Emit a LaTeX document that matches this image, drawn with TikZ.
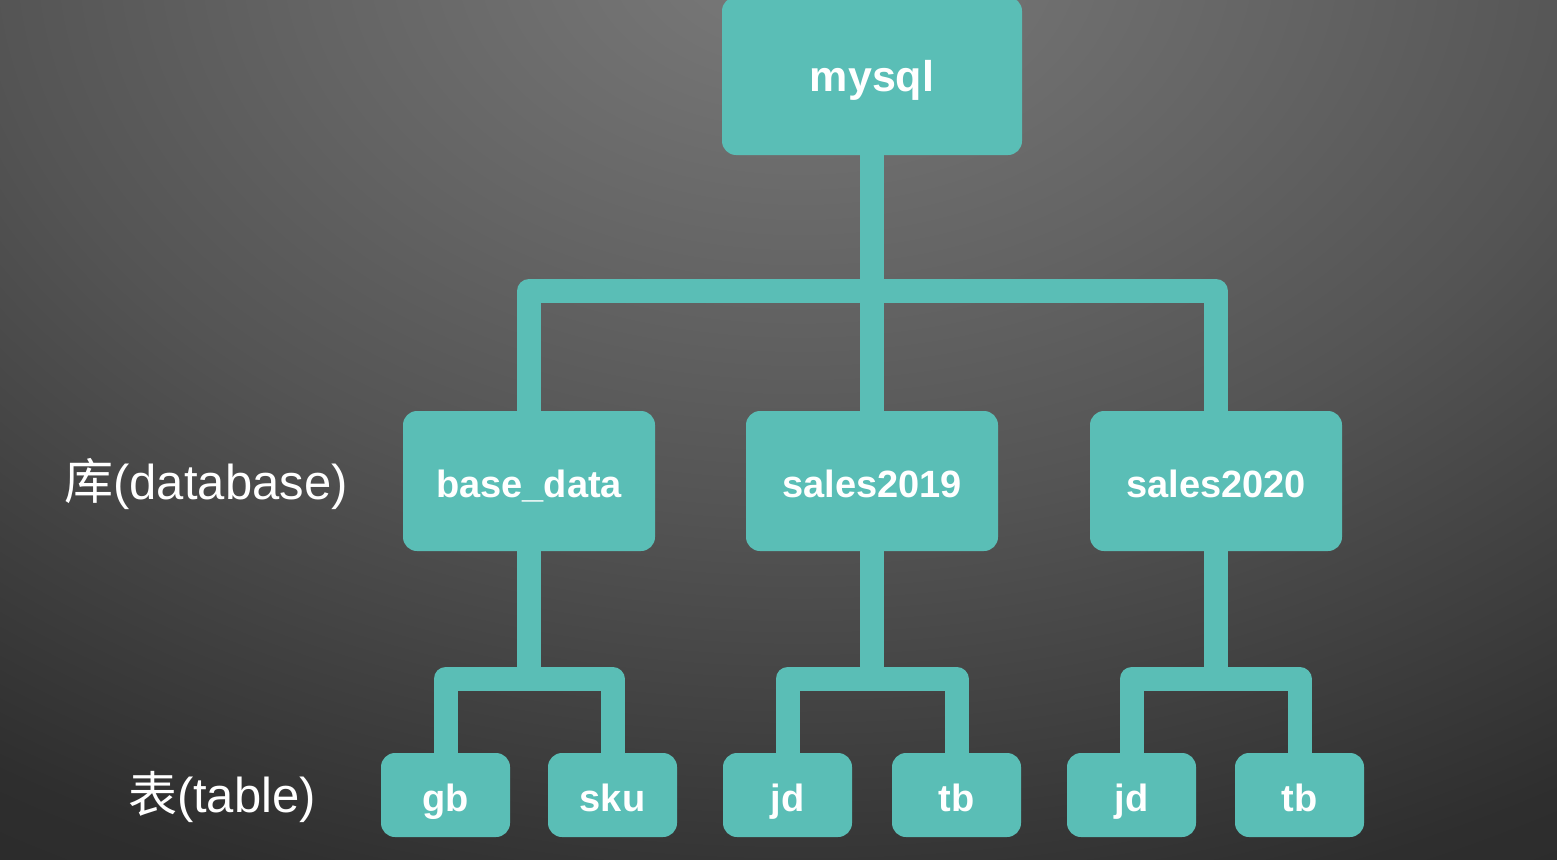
\documentclass[tikz,border=0pt]{standalone}
\usepackage{fontspec}
\setmainfont{Liberation Sans}
\newfontfamily\cjk{Noto Sans CJK SC}
\usetikzlibrary{backgrounds}
\pgfdeclarelayer{bottom}
\pgfsetlayers{bottom,background,main}
\definecolor{tealbox}{RGB}{90,190,182}
\pgfdeclareradialshading{slidebg}{\pgfpoint{0bp}{0bp}}{%
  color(0bp)=(black!52); color(8bp)=(black!61); color(13bp)=(black!67);
  color(21bp)=(black!79); color(23bp)=(black!82); color(25bp)=(black!83);
  color(50bp)=(black!83)}
\tikzset{
  box/.style={fill=tealbox, rounded corners=14pt, text=white,
    font=\bfseries\fontsize{38}{40}\selectfont, text height=34pt, text depth=2pt},
  dbbox/.style={box, minimum width=252pt, minimum height=140pt},
  tblbox/.style={box, minimum width=129pt, minimum height=84pt},
  link/.style={draw=tealbox, line width=24pt, line join=round},
  side/.style={text=white, font=\fontsize{49}{52}\selectfont}
}
\begin{document}
\begin{tikzpicture}[x=1pt,y=-1pt]
    \useasboundingbox (0,0) rectangle (1557,859);
    \begin{pgfonlayer}{bottom}
    \begin{scope}
        \clip (0,0) rectangle (1557,859);
        \fill[black!83] (0,0) rectangle (1557,859);
        \shade[shading=slidebg] (800,-50) ellipse [x radius=1560pt, y radius=1080pt];
    \end{scope}
    \end{pgfonlayer}

    \node[box, minimum width=300pt, minimum height=158pt,
          font=\bfseries\fontsize{43}{45}\selectfont] (mysql) at (872,76) {mysql};

    \node[dbbox] (base)  at (529,481)  {base\_data};
    \node[dbbox] (s2019) at (872,481)  {sales2019};
    \node[dbbox] (s2020) at (1216,481) {sales2020};

    \node[tblbox] (gb)   at (445.5,795)  {gb};
    \node[tblbox] (sku)  at (612.5,795)  {sku};
    \node[tblbox] (jda)  at (787.5,795)  {jd};
    \node[tblbox] (tba)  at (956.5,795)  {tb};
    \node[tblbox] (jdb)  at (1131.5,795) {jd};
    \node[tblbox] (tbb)  at (1299.5,795) {tb};

    \node[side] (dblabel)  at (206,484) {{\cjk 库}(database)};
    \node[side] (tbllabel) at (222,797) {{\cjk 表}(table)};

    \coordinate (topbus)  at (872,291);
    \coordinate (basebus) at (529,679);
    \coordinate (s19bus)  at (872,679);
    \coordinate (s20bus)  at (1216,679);

    \begin{pgfonlayer}{background}
        \draw[link] (mysql.south) -- (s2019.north);
        \draw[link] (base.north) |- (topbus) -| (s2020.north);
        \draw[link] (base.south) -- (basebus);
        \draw[link] (gb.north) |- (basebus) -| (sku.north);
        \draw[link] (s2019.south) -- (s19bus);
        \draw[link] (jda.north) |- (s19bus) -| (tba.north);
        \draw[link] (s2020.south) -- (s20bus);
        \draw[link] (jdb.north) |- (s20bus) -| (tbb.north);
    \end{pgfonlayer}
\end{tikzpicture}
\end{document}
